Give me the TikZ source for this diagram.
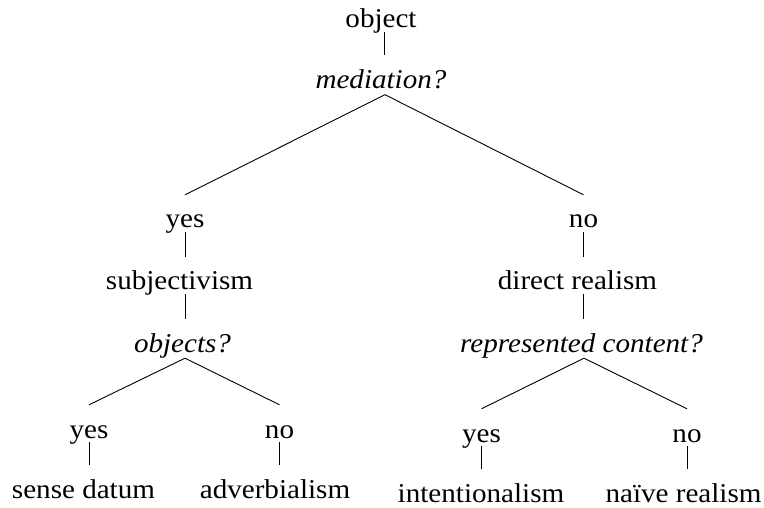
\documentclass[tikz,border=0pt]{standalone}
\usepackage{fontspec}
\setmainfont{Liberation Serif}[FakeStretch=1.07]
\begin{document}
\begin{tikzpicture}[x=1bp,y=-1bp,
  lbl/.style={anchor=base,inner sep=0pt,font=\fontsize{27.3}{32}\selectfont,text height=33bp,text depth=4bp},
  qlbl/.style={lbl,font=\fontsize{27.3}{32}\selectfont\itshape,text depth=6bp},
  edge/.style={line width=0.9bp,black}]
\useasboundingbox (0,0) rectangle (764,508);
% nodes
\node[lbl]  (obj)   at (381,28)    {object};
\node[qlbl] (med)   at (381,88.5)  {mediation?};
\node[lbl]  (yesA)  at (185,228)   {yes};
\node[lbl]  (noA)   at (583.5,228) {no};
\node[lbl]  (subj)  at (179.5,290) {subjectivism};
\node[lbl]  (dir)   at (577.5,290) {direct realism};
\node[qlbl] (objq)  at (182.5,352) {objects?};
\node[qlbl] (rep)   at (581.5,352) {represented content?};
\node[lbl]  (yesB)  at (89,438)    {yes};
\node[lbl]  (noB)   at (279.5,438) {no};
\node[lbl]  (sd)    at (83.5,498)  {sense datum};
\node[lbl]  (adv)   at (275,498)   {adverbialism};
\node[lbl]  (yesC)  at (481.5,442) {yes};
\node[lbl]  (noC)   at (687,442)   {no};
\node[lbl]  (int)   at (481,502)   {intentionalism};
\node[lbl]  (naive) at (683.5,502) {naïve realism};
% connectors
\draw[edge] ([xshift=3.5bp]obj.south) -- ([xshift=3.5bp]obj.south |- med.north);
\draw[edge] ([xshift=4bp]med.south) -- (yesA.north);
\draw[edge] ([xshift=4bp]med.south) -- (noA.north);
\draw[edge] (yesA.south) -- (yesA.south |- subj.north);
\draw[edge] (yesA.south |- subj.south) -- (yesA.south |- objq.north);
\draw[edge] (noA.south) -- (noA.south |- dir.north);
\draw[edge] (noA.south |- dir.south) -- (noA.south |- rep.north);
\draw[edge] ([xshift=2.5bp]objq.south) -- (yesB.north);
\draw[edge] ([xshift=2.5bp]objq.south) -- (noB.north);
\draw[edge] ([xshift=2.5bp]rep.south) -- (yesC.north);
\draw[edge] ([xshift=2.5bp]rep.south) -- (noC.north);
\draw[edge] (yesB.south) -- (yesB.south |- sd.north);
\draw[edge] (noB.south) -- (noB.south |- adv.north);
\draw[edge] (yesC.south) -- (yesC.south |- int.north);
\draw[edge] (noC.south) -- (noC.south |- naive.north);
\end{tikzpicture}
\end{document}
